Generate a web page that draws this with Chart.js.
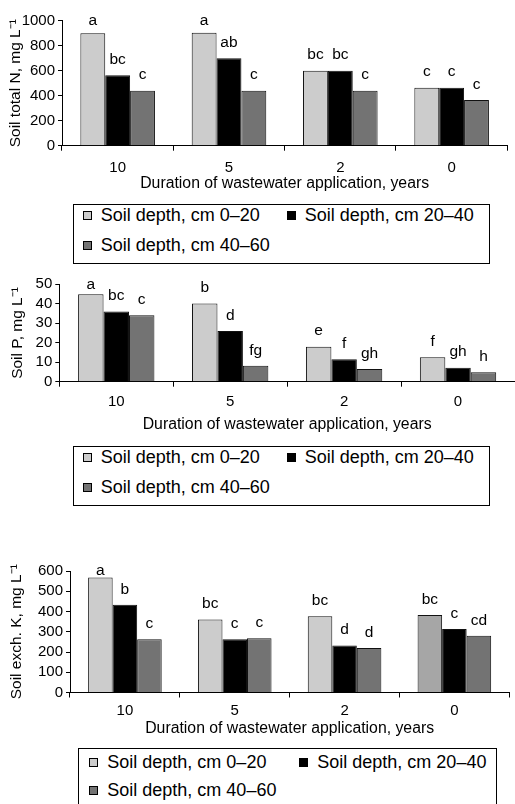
<!DOCTYPE html>
<html>
<head>
<meta charset="utf-8">
<script src="https://cdn.jsdelivr.net/npm/chart.js@4.4.1/dist/chart.umd.min.js"></script>
<style>
  html, body { margin: 0; padding: 0; background: #fff; }
  body { width: 515px; height: 804px; position: relative; overflow: hidden;
         font-family: "Liberation Sans", Arial, sans-serif; color: #000; }
  .panel { position: absolute; left: 0; width: 515px; }
  .legend { position: absolute; border: 1px solid #000; box-sizing: border-box; font-size: 18px; }
  .legend-item { position: absolute; display: flex; align-items: center; white-space: nowrap;
                 height: 20px; line-height: 20px; }
  .legend-dot { width: 9px; height: 9px; box-sizing: border-box; border: 1px solid #000; margin-right: 9px; }
</style>
</head>
<body>
  <div class="panel" style="top:0;height:193px"><canvas id="chartN"></canvas></div>
  <div class="legend" id="legendN" style="left:73px;top:204px;width:417px;height:60px"></div>

  <div class="panel" style="top:260px;height:174px"><canvas id="chartP"></canvas></div>
  <div class="legend" id="legendP" style="left:73px;top:446px;width:417px;height:60px"></div>

  <div class="panel" style="top:540px;height:198px"><canvas id="chartK"></canvas></div>
  <div class="legend" id="legendK" style="left:78px;top:748px;width:419px;height:60px"></div>

<script>
'use strict';

const CATEGORIES   = ['10', '5', '2', '0'];
const SERIES_NAMES = ['Soil depth, cm 0–20', 'Soil depth, cm 20–40', 'Soil depth, cm 40–60'];
const X_TITLE      = 'Duration of wastewater application, years';

// Soil total N
const N_0_20  = [899, 904, 600, 464];
const N_20_40 = [563, 699, 600, 464];
const N_40_60 = [440, 440, 440, 365];
const N_LET_0_20  = ['a', 'a', 'bc', 'c'];
const N_LET_20_40 = ['bc', 'ab', 'bc', 'c'];
const N_LET_40_60 = ['c', 'c', 'c', 'c'];

// Soil P
const P_0_20  = [44.9, 40.2, 18.0, 12.5];
const P_20_40 = [36.1, 26.0, 11.5, 7.2];
const P_40_60 = [34.1, 8.2, 6.5, 4.8];
const P_LET_0_20  = ['a', 'b', 'e', 'f'];
const P_LET_20_40 = ['bc', 'd', 'f', 'gh'];
const P_LET_40_60 = ['c', 'fg', 'gh', 'h'];

// Soil exch. K
const K_0_20  = [568, 360, 377, 383];
const K_20_40 = [433, 263, 232, 313];
const K_40_60 = [263, 268, 220, 280];
const K_LET_0_20  = ['a', 'bc', 'bc', 'bc'];
const K_LET_20_40 = ['b', 'c', 'd', 'c'];
const K_LET_40_60 = ['c', 'c', 'd', 'cd'];

const LIGHT = '#cccccc', BLACK = '#000000', DARK = '#737373';

Chart.defaults.font.family = '"Liberation Sans", Arial, sans-serif';
Chart.defaults.color = '#000';

const letterPlugin = {
  id: 'letters',
  afterDatasetsDraw(chart, args, opts) {
    const { ctx, chartArea } = chart;
    ctx.save();
    ctx.font = '15.5px "Liberation Sans", Arial, sans-serif';
    ctx.fillStyle = '#000';
    ctx.textAlign = 'center';
    ctx.textBaseline = 'middle';
    chart.data.datasets.forEach((ds, i) => {
      chart.getDatasetMeta(i).data.forEach((bar, j) => {
        const y = Math.max(bar.y - opts.offset, chartArea.top);
        ctx.fillText(ds.letters[j], bar.x, y);
      });
    });
    ctx.restore();
  },
};

function makeChart(id, cfg) {
  return new Chart(document.getElementById(id), {
    type: 'bar',
    data: {
      labels: CATEGORIES,
      datasets: cfg.series.map((values, i) => ({
        label: SERIES_NAMES[i],
        data: values,
        letters: cfg.letters[i],
        backgroundColor: cfg.colors[i],
        borderColor: '#111',
        borderWidth: 1,
        barPercentage: 1,
        categoryPercentage: 0.67,
      })),
    },
    options: {
      responsive: true,
      maintainAspectRatio: false,
      animation: false,
      layout: { padding: cfg.padding },
      plugins: {
        legend: { display: false },
        tooltip: { enabled: false },
        letters: { offset: cfg.letterOffset },
      },
      scales: {
        x: {
          grid: { offset: true, drawOnChartArea: false, tickLength: 5, color: '#000' },
          border: { color: '#000' },
          ticks: { padding: cfg.xPad, font: { size: 15 } },
          title: { display: true, text: X_TITLE, font: { size: 15.8 }, padding: 0 },
          afterFit: s => { s.height = cfg.xHeight; },
        },
        y: {
          min: 0,
          max: cfg.max,
          ticks: { stepSize: cfg.step, padding: 3, autoSkip: false, font: { size: 15 }, callback: v => String(v) },
          grid: { drawOnChartArea: false, tickLength: 4, color: '#000' },
          border: { color: '#000' },
          title: { display: true, text: cfg.yTitle, font: { size: 15.5 }, padding: { top: cfg.yTitlePad, bottom: 0 } },
          afterFit: s => { s.width = cfg.yWidth; },
        },
      },
    },
    plugins: [letterPlugin],
  });
}

function renderLegend(id, items) {
  const colors = [LIGHT, BLACK, DARK];
  document.getElementById(id).innerHTML = items.map((pos, i) =>
    `<span class="legend-item" style="left:${pos[0]}px;top:${pos[1]}px">
      <span class="legend-dot" style="background:${colors[i]}"></span>${SERIES_NAMES[i]}
    </span>`
  ).join('');
}

makeChart('chartN', {
  series: [N_0_20, N_20_40, N_40_60],
  letters: [N_LET_0_20, N_LET_20_40, N_LET_40_60],
  colors: [LIGHT, BLACK, DARK],
  max: 1000, step: 200,
  yTitle: 'Soil total N, mg L⁻¹',
  padding: { top: 20.7, right: 7.7, left: 0, bottom: 0 },
  yWidth: 62, xHeight: 47.3, xPad: 8.3, yTitlePad: 6, letterOffset: 15.5,
});

makeChart('chartP', {
  series: [P_0_20, P_20_40, P_40_60],
  letters: [P_LET_0_20, P_LET_20_40, P_LET_40_60],
  colors: [LIGHT, BLACK, DARK],
  max: 50, step: 10,
  yTitle: 'Soil P, mg L⁻¹',
  padding: { top: 24.3, right: 0, left: 0, bottom: 0 },
  yWidth: 59.3, xHeight: 52.3, xPad: 6, yTitlePad: 8.4, letterOffset: 15.5,
});

makeChart('chartK', {
  series: [K_0_20, K_20_40, K_40_60],
  letters: [K_LET_0_20, K_LET_20_40, K_LET_40_60],
  colors: [[LIGHT, LIGHT, LIGHT, '#a6a6a6'], BLACK, DARK],
  max: 600, step: 100,
  yTitle: 'Soil exch. K, mg L⁻¹',
  padding: { top: 31, right: 5.7, left: 0, bottom: 0 },
  yWidth: 70, xHeight: 45.5, xPad: 4.2, yTitlePad: 7.4, letterOffset: 15.5,
});

renderLegend('legendN', [[8.7, 0], [212.7, 0], [8.7, 30]]);
renderLegend('legendP', [[8.7, 0], [212.7, 0], [8.7, 30]]);
renderLegend('legendK', [[10.3, 3.3], [220.3, 3.3], [10.3, 31]]);
</script>
</body>
</html>
